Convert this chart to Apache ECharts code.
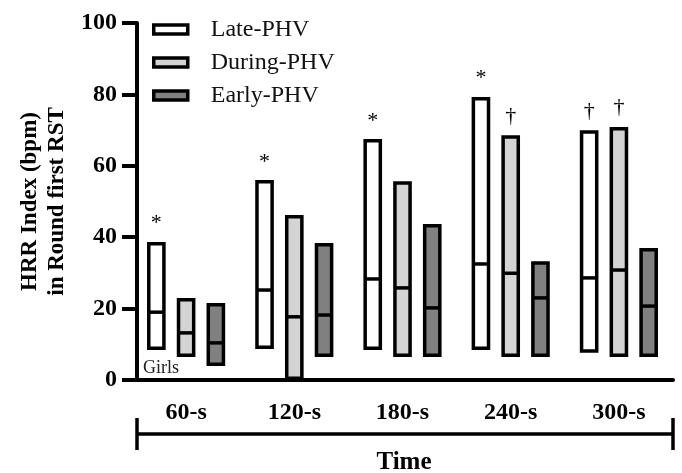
<!DOCTYPE html>
<html>
<head>
<meta charset="utf-8">
<script src="https://cdn.jsdelivr.net/npm/echarts@6/dist/echarts.min.js"></script>
<style>html,body{margin:0;padding:0;background:#fff}#c{width:682px;height:473px}</style>
</head>
<body>
<div id="c"></div>
<script>
const categories = ['60-s', '120-s', '180-s', '240-s', '300-s'];
const seriesNames = ['Late-PHV', 'During-PHV', 'Early-PHV'];
const lateMin = [8.9, 9.2, 8.9, 8.9, 8.1];
const lateMed = [19.0, 25.2, 28.3, 32.5, 28.6];
const lateMax = [38.2, 55.5, 67.0, 78.8, 69.5];
const duringMin = [6.9, 0.5, 6.9, 6.9, 6.9];
const duringMed = [13.2, 17.7, 25.8, 29.9, 30.8];
const duringMax = [22.5, 45.7, 55.2, 68.1, 70.4];
const earlyMin = [4.4, 6.9, 6.9, 6.9, 6.9];
const earlyMed = [10.4, 18.2, 20.2, 23.0, 20.7];
const earlyMax = [21.1, 37.9, 43.2, 32.8, 36.5];
const lateMarks = ['*', '*', '*', '*', '†'];
const duringMarks = ['', '', '', '†', '†'];
const earlyMarks = ['', '', '', '', ''];
const yTicks = [0, 20, 40, 60, 80, 100];

const FONT = 'Liberation Serif';
const fills = ['#ffffff', '#d4d4d4', '#808080'];

function build(mins, meds, maxs) {
  return categories.map((c, i) => [i, mins[i], meds[i], maxs[i]]);
}

function makeRender(gi, fill, marks) {
  return function (params, api) {
    const cat = api.value(0);
    const lo = api.coord([cat, api.value(1)]);
    const md = api.coord([cat, api.value(2)]);
    const hi = api.coord([cat, api.value(3)]);
    const band = api.size([1, 0])[0];
    const w = band * 0.14;
    const cx = lo[0] + (gi - 1) * band * 0.275;
    const x0 = cx - w / 2;
    const children = [
      { type: 'rect', shape: { x: x0, y: hi[1], width: w, height: lo[1] - hi[1] },
        style: { fill: fill, stroke: '#000', lineWidth: 3.5 } },
      { type: 'line', shape: { x1: x0, y1: md[1], x2: x0 + w, y2: md[1] },
        style: { stroke: '#000', lineWidth: 3.5 } }
    ];
    const m = marks[params.dataIndex];
    if (m) {
      const isStar = m === '*';
      children.push({ type: 'text', x: cx, y: hi[1] - (isStar ? 9 : 10),
        style: { text: m, fill: '#000', font: '22px ' + FONT,
          align: 'center', verticalAlign: 'bottom' } });
    }
    return { type: 'group', children: children };
  };
}

const chart = echarts.init(document.getElementById('c'));
chart.setOption({
  animation: false,
  grid: { left: 132, right: 9, top: 23, bottom: 93 },
  legend: {
    orient: 'vertical', left: 152, top: 17, padding: 0, icon: 'rect',
    itemWidth: 34, itemHeight: 9, itemGap: 8,
    textStyle: { fontFamily: FONT, fontSize: 24, color: '#111', lineHeight: 25, padding: [0, 0, 0, 18] },
    data: seriesNames.map((n, i) => ({ name: n, itemStyle: { color: fills[i], borderColor: '#000', borderWidth: 3.5 } }))
  },
  xAxis: {
    type: 'category', data: categories,
    axisLine: { lineStyle: { color: '#000', width: 4 } },
    axisTick: { alignWithLabel: true, length: 14, lineStyle: { color: '#000', width: 4 } },
    axisLabel: { fontFamily: FONT, fontWeight: 'bold', fontSize: 24, color: '#000', margin: 21 }
  },
  yAxis: {
    type: 'value', min: yTicks[0], max: yTicks[yTicks.length - 1], interval: 20, offset: -5,
    splitLine: { show: false },
    axisLine: { show: true, lineStyle: { color: '#000', width: 4 } },
    axisTick: { show: true, length: 15, lineStyle: { color: '#000', width: 4 } },
    axisLabel: { fontFamily: FONT, fontWeight: 'bold', fontSize: 24, color: '#000', margin: 20 },
    name: 'HRR Index (bpm)\nin Round first RST', nameLocation: 'middle', nameGap: 66,
    nameTextStyle: { fontFamily: FONT, fontWeight: 'bold', fontSize: 23, color: '#000', lineHeight: 27 }
  },
  graphic: [
    { type: 'text', left: 143, top: 359, style: { text: 'Girls', font: '18px ' + FONT, fill: '#222' } },
    { type: 'line', shape: { x1: 137, y1: 434, x2: 673, y2: 434 }, style: { stroke: '#000', lineWidth: 3.5 } },
    { type: 'line', shape: { x1: 137, y1: 418, x2: 137, y2: 450 }, style: { stroke: '#000', lineWidth: 3.5 } },
    { type: 'line', shape: { x1: 673, y1: 418, x2: 673, y2: 450 }, style: { stroke: '#000', lineWidth: 3.5 } },
    { type: 'text', x: 404, y: 463, style: { text: 'Time', font: 'bold 25px ' + FONT, fill: '#000', align: 'center', verticalAlign: 'middle' } }
  ],
  series: [
    { type: 'custom', name: seriesNames[0], itemStyle: { color: fills[0] }, encode: { x: 0, y: [1, 2, 3] },
      renderItem: makeRender(0, fills[0], lateMarks), data: build(lateMin, lateMed, lateMax) },
    { type: 'custom', name: seriesNames[1], itemStyle: { color: fills[1] }, encode: { x: 0, y: [1, 2, 3] },
      renderItem: makeRender(1, fills[1], duringMarks), data: build(duringMin, duringMed, duringMax) },
    { type: 'custom', name: seriesNames[2], itemStyle: { color: fills[2] }, encode: { x: 0, y: [1, 2, 3] },
      renderItem: makeRender(2, fills[2], earlyMarks), data: build(earlyMin, earlyMed, earlyMax) }
  ]
});
</script>
</body>
</html>
